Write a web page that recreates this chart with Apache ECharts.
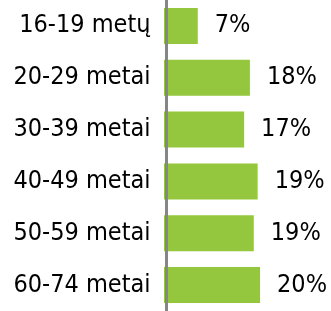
<!DOCTYPE html>
<html>
<head>
<meta charset="utf-8">
<script src="https://cdn.jsdelivr.net/npm/echarts@6/dist/echarts.min.js"></script>
<style>
html,body{margin:0;padding:0;background:#fff;}
#c{width:331px;height:311px;}
</style>
</head>
<body>
<div id="c"></div>
<script>
var categories = ['16-19 metų', '20-29 metai', '30-39 metai', '40-49 metai', '50-59 metai', '60-74 metai'];
var values = [7.0, 17.8, 16.6, 19.4, 18.6, 19.9];

var FONT = '"DejaVu Sans Condensed", "Open Sans", sans-serif';
var chart = echarts.init(document.getElementById('c'), null, {renderer: 'canvas'});
chart.setOption({
  animation: false,
  grid: {left: 164, right: 0, top: -2, bottom: -11, containLabel: false},
  xAxis: {
    type: 'value', min: 0, max: 34.6, show: false
  },
  yAxis: {
    type: 'category', data: categories, inverse: true, offset: -2.5, z: 10,
    axisLine: {show: true, lineStyle: {color: '#868686', width: 3}},
    axisTick: {show: false},
    splitLine: {show: false},
    axisLabel: {color: '#000', fontSize: 25, fontFamily: FONT, margin: 16}
  },
  series: [{
    type: 'bar', data: values, barWidth: 36,
    itemStyle: {color: '#94C73D'},
    label: {
      show: true, position: 'right', distance: 17, color: '#000', fontSize: 25, fontFamily: FONT,
      formatter: function (p) { return Math.round(p.value) + '%'; }
    }
  }]
});
</script>
</body>
</html>
